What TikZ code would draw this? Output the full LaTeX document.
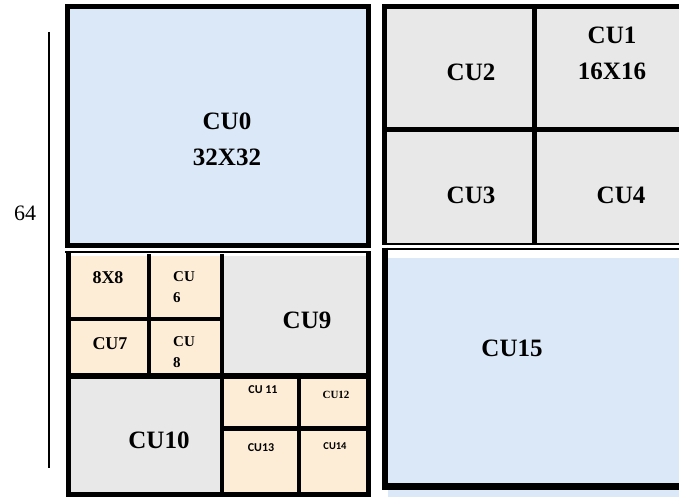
\documentclass[tikz,border=0pt]{standalone}
\usepackage{fontspec}
\setmainfont{Liberation Serif}
\newfontfamily\cusans{Carlito}
\usetikzlibrary{positioning}
\definecolor{Cblue}{RGB}{219,232,247}
\definecolor{Cgrey}{RGB}{232,232,232}
\definecolor{Ccream}{RGB}{253,237,214}
\tikzset{
  cuframe/.style={draw=black, line width=5pt},
  cusplit/.style={draw=black, line width=4pt},
  cuthin/.style={draw=black, line width=2.2pt},
  bigcu/.style={font=\fontsize{25}{36}\selectfont\bfseries, align=center, inner sep=0pt},
  midcu/.style={font=\fontsize{18}{22}\selectfont\bfseries, inner sep=0pt},
  tinycu/.style={font=\fontsize{15}{21}\selectfont\bfseries, align=left, inner sep=0pt},
  serifcu/.style={font=\fontsize{11}{13}\selectfont\bfseries, inner sep=0pt},
  sanscu/.style={font=\fontsize{12}{14}\selectfont\cusans\bfseries, inner sep=0pt},
}

\begin{document}
\begin{tikzpicture}[x=1pt, y=-1pt]
\useasboundingbox (0,0) rectangle (679,497);
\clip (0,0) rectangle (679,497);

%%==========================================================================
%% SIZE MARK
%%==========================================================================
\coordinate (dimtop) at (49,32);
\coordinate (dimbot) at (49,468);
\draw[line width=1.8pt] (dimtop) -- (dimbot);
\node[font=\fontsize{22}{24}\selectfont, inner sep=0pt] (side) at (25,213) {64};

%%==========================================================================
%% LEFT HALF — CU0 on top, 8x8 / 4x4 split below
%%==========================================================================
\fill[Cblue] (65,4) rectangle (371,248);
\draw[cuframe] (67.5,6.5) rectangle (368.5,245.5);

\fill[Ccream] (70,256) rectangle (222,376);
\fill[Cgrey]  (222,256) rectangle (367,376);
\fill[Cgrey]  (70,376) rectangle (222,492);
\fill[Ccream] (222,376) rectangle (367,492);
\draw[cuthin] (65,252) -- (371,252);
\draw[cuframe] (68,252) -- (68,494.5) -- (368.5,494.5) -- (368.5,252);
\draw[cusplit] (149,254) -- (149,373);
\draw[cusplit] (70,319) -- (222,319);
\draw[cusplit] (222,254) -- (222,492);
\draw[cuframe, line width=6pt] (66,376) -- (371,376);
\draw[cusplit] (299,379) -- (299,492);
\draw[cuframe] (222,428.5) -- (367,428.5);

%%==========================================================================
%% RIGHT HALF — four 16x16 on top, CU15 below
%%==========================================================================
\fill[Cgrey] (387,9) rectangle (690,243);
\draw[cuframe] (384.5,244) -- (384.5,6.5) -- (690,6.5);
\draw[cuthin] (382,244.3) -- (690,244.3);
\draw[cuframe] (534.5,9) -- (534.5,243);
\draw[cuframe] (387,129.5) -- (690,129.5);

\fill[Cblue] (388,258) rectangle (690,497);
\draw[cuthin] (382,248.6) -- (690,248.6);
\draw[cuframe, line width=6pt] (385,247.5) -- (385,490);
\draw[cuframe, line width=7pt] (382,486.5) -- (690,486.5);

%%==========================================================================
%% LABELS
%%==========================================================================
\node[bigcu] (cu0)  at (227,139.5) {CU0\\32X32};
\node[bigcu] (cu1)  at (612,53.5)  {CU1\\16X16};
\node[bigcu] (cu2)  at (471,72)    {CU2};
\node[bigcu] (cu3)  at (471,195)   {CU3};
\node[bigcu] (cu4)  at (621,195)   {CU4};
\node[bigcu] (cu15) at (512,348)   {CU15};

\node[midcu]  (cu5) at (108,278)   {8X8};
\node[tinycu] (cu6) at (184,287.5) {CU\\6};
\node[midcu]  (cu7) at (110,344)   {CU7};
\node[tinycu] (cu8) at (184,352)   {CU\\8};
\node[bigcu]  (cu9) at (307,320)   {CU9};
\node[bigcu]  (cu10) at (159,440)  {CU10};

\node[sanscu]  (cu11) at (263,390) {CU 11};
\node[serifcu] (cu12) at (336,395) {CU12};
\node[sanscu]  (cu13) at (261,448) {CU13};
\node[sanscu, font=\fontsize{10.5}{12}\selectfont\cusans\bfseries] (cu14) at (335,446) {CU14};

\end{tikzpicture}
\end{document}
